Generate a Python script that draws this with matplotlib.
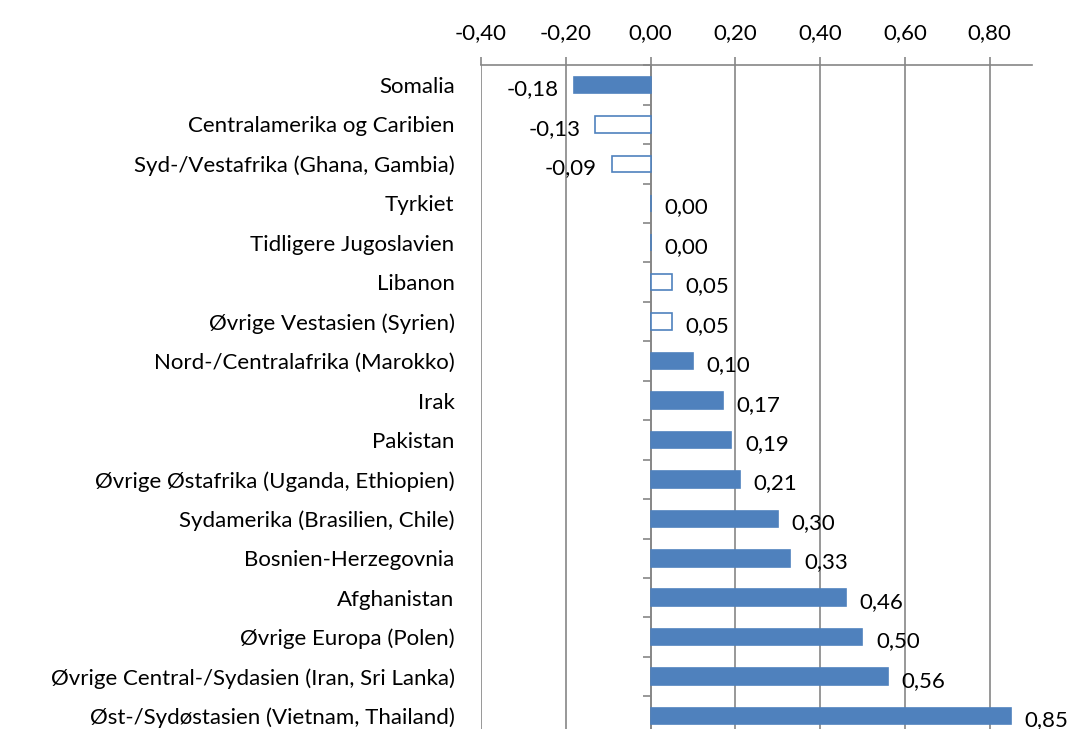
import numpy as np
import matplotlib
matplotlib.use("Agg")
import matplotlib.pyplot as plt
from matplotlib.ticker import FuncFormatter

plt.rcParams['font.family'] = ['Lato', 'DejaVu Sans']

# data, top to bottom as in the chart
countries = [
    "Somalia",
    "Centralamerika og Caribien",
    "Syd-/Vestafrika (Ghana, Gambia)",
    "Tyrkiet",
    "Tidligere Jugoslavien",
    "Libanon",
    "Øvrige Vestasien (Syrien)",
    "Nord-/Centralafrika (Marokko)",
    "Irak",
    "Pakistan",
    "Øvrige Østafrika (Uganda, Ethiopien)",
    "Sydamerika (Brasilien, Chile)",
    "Bosnien-Herzegovnia",
    "Afghanistan",
    "Øvrige Europa (Polen)",
    "Øvrige Central-/Sydasien (Iran, Sri Lanka)",
    "Øst-/Sydøstasien (Vietnam, Thailand)",
]
values = [-0.18, -0.13, -0.09, 0.00, 0.00, 0.05, 0.05, 0.10, 0.17, 0.19,
          0.21, 0.30, 0.33, 0.46, 0.50, 0.56, 0.85]
# filled bar = significant, hollow bar = not significant
filled = [True, False, False, True, True, False, False, True, True, True,
          True, True, True, True, True, True, True]
xticks = [-0.4, -0.2, 0.0, 0.2, 0.4, 0.6, 0.8]

blue = "#4F81BD"
gray = "#868686"
fs = 16

fig = plt.figure(figsize=(10.77, 7.29), dpi=100)
ax = fig.add_axes([481 / 1077, -0.0092, 551 / 1077, 0.9196])

pos = np.arange(len(countries))
faces = [blue if f else "white" for f in filled]
ax.barh(pos, values, height=0.42, color=faces, edgecolor=blue, linewidth=1.2, zorder=3)

ax.set_xlim(-0.4, 0.9)
ax.set_ylim(len(countries) - 0.5, -0.5)

ax.xaxis.tick_top()
ax.set_xticks(xticks)
ax.xaxis.set_major_formatter(FuncFormatter(lambda v, p: f"{v:.2f}".replace(".", ",")))
ax.tick_params(axis='x', direction='out', length=6, width=1.2, color=gray, pad=10, labelsize=fs)
ax.grid(axis='x', color=gray, linewidth=1.2, zorder=0)

ax.set_yticks(pos)
ax.set_yticklabels(countries, fontsize=fs)
ax.tick_params(axis='y', length=0, pad=19)

for s in ['left', 'right', 'bottom']:
    ax.spines[s].set_visible(False)
ax.spines['top'].set_color(gray)
ax.spines['top'].set_linewidth(1.2)

# category axis crossing at zero
sec = ax.secondary_yaxis(0.4 / 1.3)
sec.set_yticks(np.arange(-0.5, len(countries), 1.0))
sec.set_yticklabels([])
sec.tick_params(axis='y', direction='out', length=6, width=1.2, color=gray)
sec.spines['left'].set_color(gray)
sec.spines['left'].set_linewidth(1.2)

for y, v in zip(pos, values):
    txt = f"{v:.2f}".replace(".", ",")
    if v < 0:
        ax.annotate(txt, (v, y), xytext=(-11, -3), textcoords='offset points',
                    ha='right', va='center', fontsize=fs, zorder=4)
    else:
        ax.annotate(txt, (v, y), xytext=(10, -3), textcoords='offset points',
                    ha='left', va='center', fontsize=fs, zorder=4)

fig.savefig("out.png", dpi=100)
